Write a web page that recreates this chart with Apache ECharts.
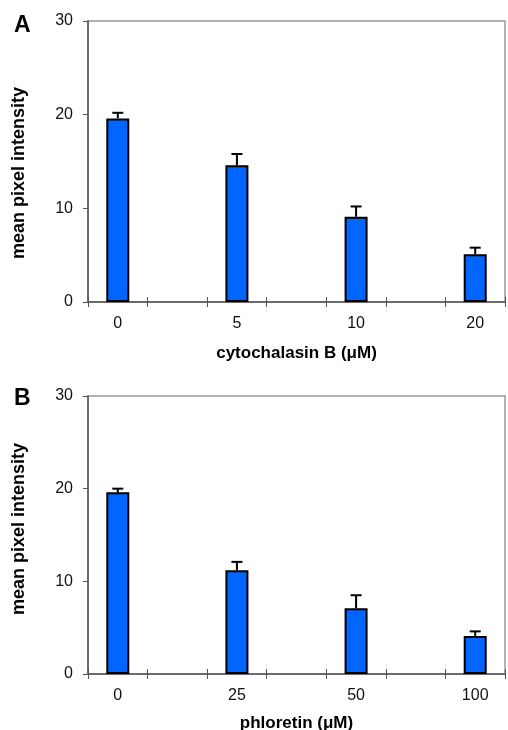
<!DOCTYPE html>
<html>
<head>
<meta charset="utf-8">
<script src="https://cdn.jsdelivr.net/npm/echarts@6/dist/echarts.min.js"></script>
<style>
  html, body { margin: 0; padding: 0; background: #fff; }
  #chart { width: 508px; height: 730px; }
</style>
</head>
<body>
<div id="chart"></div>
<script>
// categories: empty slots sit between the labelled doses
const catsA = ['0', '', '5', '', '10', '', '20']
const catsB = ['0', '', '25', '', '50', '', '100']
const valuesA = [19.6, null, 14.6, null, 9.1, null, 5.1]
const errorsA = [0.6, null, 1.2, null, 1.1, null, 0.7]
const valuesB = [19.6, null, 11.2, null, 7.1, null, 4.1]
const errorsB = [0.4, null, 0.9, null, 1.4, null, 0.5]
const yTicks = [0, 10, 20, 30]

const font = 'Arial, "Liberation Sans", sans-serif'
const axisColor = '#555'

function errData(vals, errs) {
  const out = []
  vals.forEach((v, i) => {
    if (v != null) out.push([i, v, v + errs[i]])
  })
  return out
}

function renderErr(params, api) {
  const base = api.coord([api.value(0), api.value(1)])
  const top = api.coord([api.value(0), api.value(2)])
  const style = { stroke: '#000', lineWidth: 2 }
  return {
    type: 'group',
    children: [
      { type: 'line', shape: { x1: base[0], y1: base[1], x2: top[0], y2: top[1] }, style },
      { type: 'line', shape: { x1: top[0] - 5.5, y1: top[1], x2: top[0] + 5.5, y2: top[1] }, style }
    ]
  }
}

function xAxes(cats, gridIndex, name, gap) {
  return [
    {
      type: 'category', gridIndex, data: cats, position: 'bottom',
      name, nameLocation: 'middle', nameGap: gap,
      nameTextStyle: { fontFamily: font, fontWeight: 'bold', fontSize: 17, color: '#000' },
      axisLine: { lineStyle: { color: axisColor, width: 1.5 } },
      axisTick: { show: true, length: 5, lineStyle: { color: axisColor } },
      axisLabel: { fontFamily: font, fontSize: 16, color: '#111', margin: 14, interval: 0 }
    },
    {
      // upper half of the crossing ticks
      type: 'category', gridIndex, data: cats, position: 'bottom',
      axisLine: { show: false },
      axisTick: { show: true, inside: true, length: 5, lineStyle: { color: axisColor } },
      axisLabel: { show: false }
    }
  ]
}

function yAxis(gridIndex) {
  return {
    type: 'value', gridIndex, min: 0, max: 30, interval: 10,
    axisLine: { show: true, lineStyle: { color: axisColor, width: 1.5 } },
    axisTick: { show: true, length: 5, lineStyle: { color: axisColor } },
    axisLabel: {
      fontFamily: font, fontSize: 16, color: '#111', margin: 15,
      formatter: v => (yTicks.includes(v) ? String(v) : '')
    },
    splitLine: { show: false }
  }
}

function barSeries(vals, xi, yi) {
  return {
    type: 'bar', xAxisIndex: xi, yAxisIndex: yi, data: vals, barWidth: 23,
    itemStyle: { color: '#0066ff', borderColor: '#000', borderWidth: 2 },
    z: 2
  }
}

function errSeries(vals, errs, xi, yi) {
  return {
    type: 'custom', xAxisIndex: xi, yAxisIndex: yi,
    data: errData(vals, errs), renderItem: renderErr, z: 3
  }
}

const chart = echarts.init(document.getElementById('chart'))
chart.setOption({
  animation: false,
  grid: [
    { left: 88, right: 3, top: 21, height: 281, show: true, borderColor: '#999', borderWidth: 1.5, outerBoundsMode: 'none', containLabel: false },
    { left: 88, right: 3, top: 396, height: 278, show: true, borderColor: '#999', borderWidth: 1.5, outerBoundsMode: 'none', containLabel: false }
  ],
  xAxis: [
    ...xAxes(catsA, 0, 'cytochalasin B (μM)', 43),
    ...xAxes(catsB, 1, 'phloretin (μM)', 41)
  ],
  yAxis: [yAxis(0), yAxis(1)],
  series: [
    barSeries(valuesA, 0, 0),
    errSeries(valuesA, errorsA, 0, 0),
    barSeries(valuesB, 2, 1),
    errSeries(valuesB, errorsB, 2, 1)
  ],
  graphic: [
    { type: 'text', left: 14, top: 14, style: { text: 'A', font: 'bold 23px ' + font, fill: '#000' } },
    { type: 'text', left: 14, top: 387, style: { text: 'B', font: 'bold 23px ' + font, fill: '#000' } },
    {
      type: 'text', x: 19, y: 173, rotation: Math.PI / 2,
      style: { text: 'mean pixel intensity', font: 'bold 18px ' + font, fill: '#000', align: 'center', verticalAlign: 'middle' }
    },
    {
      type: 'text', x: 19, y: 529, rotation: Math.PI / 2,
      style: { text: 'mean pixel intensity', font: 'bold 18px ' + font, fill: '#000', align: 'center', verticalAlign: 'middle' }
    }
  ]
})
</script>
</body>
</html>
